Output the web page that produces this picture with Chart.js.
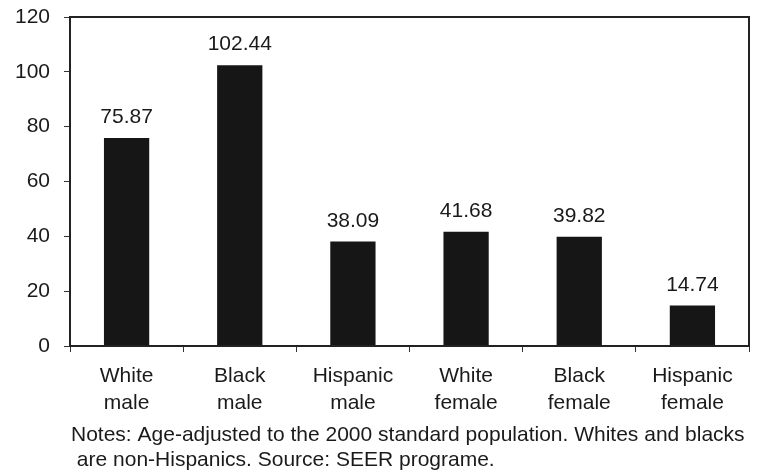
<!DOCTYPE html>
<html>
<head>
<script src="https://cdn.jsdelivr.net/npm/chart.js@4.4.0/dist/chart.umd.min.js"></script>
<style>
  body { margin: 0; background: #fff; }
  #wrap { width: 761px; height: 476px; }
</style>
</head>
<body>
<div id="wrap"><canvas id="myChart" width="761" height="476"></canvas></div>
<script>
// data
var categories = [['White', 'male'], ['Black', 'male'], ['Hispanic', 'male'],
                  ['White', 'female'], ['Black', 'female'], ['Hispanic', 'female']];
var rates = [75.87, 102.44, 38.09, 41.68, 39.82, 14.74];
var yTicks = [0, 20, 40, 60, 80, 100, 120];
var notes = ['Notes: Age-adjusted to the 2000 standard population. Whites and blacks',
             ' are non-Hispanics. Source: SEER programe.'];

var font = 'Liberation Sans, Arial, sans-serif';
var ink = '#1a1a1a';

// value above each bar, box round the plot, notes under the axis
var extras = {
  id: 'extras',
  afterDatasetsDraw: function(chart) {
    var ctx = chart.ctx;
    var area = chart.chartArea;
    ctx.save();
    ctx.font = '21px ' + font;
    ctx.fillStyle = ink;
    ctx.textAlign = 'center';
    ctx.textBaseline = 'alphabetic';
    chart.getDatasetMeta(0).data.forEach(function(bar, i) {
      ctx.fillText(rates[i].toFixed(2), bar.x, bar.y - 15);
    });
    ctx.strokeStyle = '#222';
    ctx.lineWidth = 2;
    ctx.strokeRect(area.left, area.top, area.right - area.left, area.bottom - area.top);
    ctx.textAlign = 'left';
    ctx.font = '21px ' + font;
    notes.forEach(function(line, i) {
      ctx.fillText(line, area.left + 1, 441 + i * 25);
    });
    ctx.restore();
  }
};

var ctx = document.getElementById('myChart').getContext('2d');
var myChart = new Chart(ctx, {
  type: 'bar',
  data: {
    labels: categories,
    datasets: [{
      data: rates,
      backgroundColor: '#161616',
      borderWidth: 0,
      categoryPercentage: 1.0,
      barPercentage: 0.4
    }]
  },
  options: {
    responsive: false,
    animation: false,
    layout: { padding: { left: 0, top: 17, right: 12, bottom: 0 } },
    scales: {
      x: {
        grid: { display: true, drawOnChartArea: false, tickLength: 6, color: '#333', offset: true },
        border: { display: false },
        ticks: { color: ink, font: { family: font, size: 21, lineHeight: 1.28 }, padding: 11, maxRotation: 0 },
        afterFit: function(scale) { scale.height = 130; }
      },
      y: {
        min: 0, max: 120,
        afterBuildTicks: function(scale) { scale.ticks = yTicks.map(function(v) { return { value: v }; }); },
        grid: { display: true, drawOnChartArea: false, tickLength: 6, color: '#333' },
        border: { display: false },
        ticks: { color: ink, font: { family: font, size: 21 }, padding: 14 },
        afterFit: function(scale) {
          scale.width = 70;
          scale.paddingTop = 0;
          scale.paddingBottom = 0;
        }
      }
    },
    plugins: {
      legend: { display: false },
      tooltip: { enabled: false }
    }
  },
  plugins: [extras]
});
</script>
</body>
</html>
